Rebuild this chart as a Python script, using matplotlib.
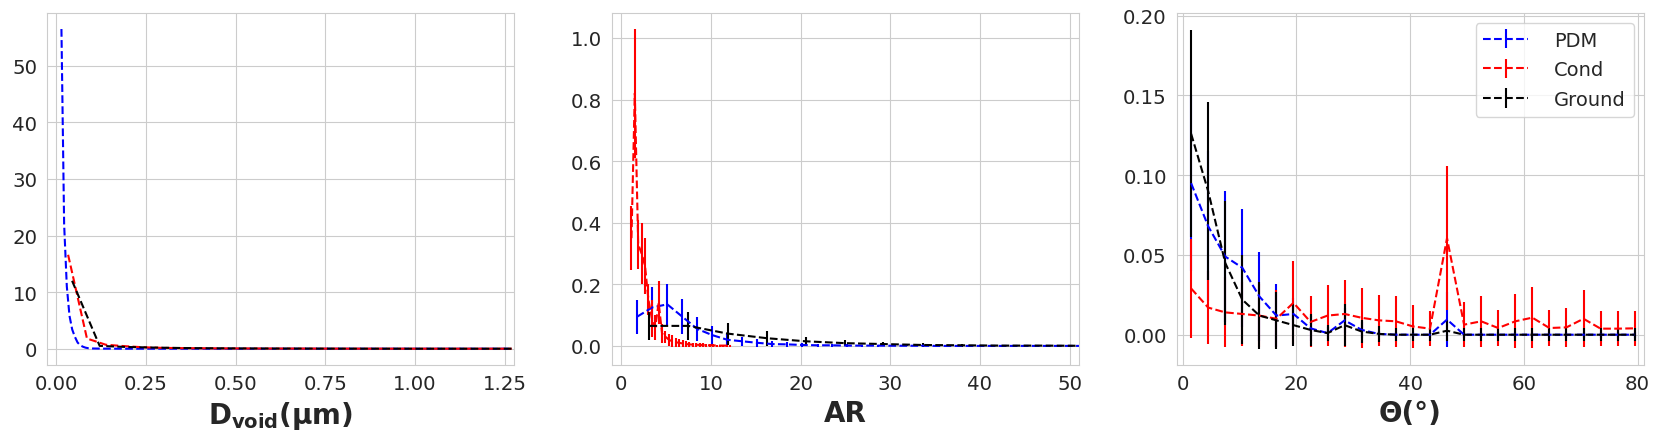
import numpy as np
import matplotlib
matplotlib.use("Agg")
import matplotlib.pyplot as plt
import seaborn as sns

sns.set_style("whitegrid")
plt.rcParams["font.family"] = ["DejaVu Sans"]

# ---- D_void panel (um) ----
dv_pdm_x = [0.0138, 0.0213, 0.0288, 0.0363, 0.0438, 0.0513, 0.0588, 0.0663,
            0.0738, 0.0813, 0.0888, 0.1, 0.13, 0.2, 0.4, 0.7, 1.0, 1.27]
dv_pdm_y = [56.5, 22.0, 11.0, 5.8, 3.4, 2.1, 1.1, 0.6,
            0.35, 0.18, 0.09, 0.04, 0.01, 0.0, 0.0, 0.0, 0.0, 0.0]
dv_cond_x = [0.0324, 0.085, 0.1376, 0.19, 0.243, 0.295, 0.35, 0.45, 0.6, 0.8, 1.0, 1.27]
dv_cond_y = [16.6, 1.8, 0.7, 0.45, 0.25, 0.15, 0.1, 0.06, 0.03, 0.01, 0.0, 0.0]
dv_gnd_x = [0.0435, 0.1204, 0.197, 0.274, 0.351, 0.428, 0.505, 0.6, 0.8, 1.0, 1.27]
dv_gnd_y = [12.0, 0.5, 0.3, 0.2, 0.12, 0.08, 0.05, 0.03, 0.01, 0.0, 0.0]

# ---- AR panel ----
ar_pdm_x = [1.79, 3.47, 5.14, 6.81, 8.49, 10.16, 11.83, 13.5, 15.2, 16.85,
            18.5, 20.2, 21.9, 23.5, 25.2, 26.9, 28.6, 30.2, 31.9, 33.6,
            35.2, 36.9, 38.6, 40.2, 41.9, 43.6, 45.3, 46.9, 48.6, 50.3, 52.0]
ar_pdm_y = [0.095, 0.125, 0.135, 0.095, 0.055, 0.035, 0.02, 0.015, 0.01, 0.006,
            0.005, 0.003, 0.002, 0.002, 0.001, 0.001, 0.001, 0.0005, 0.0005, 0.0005,
            0.0, 0.0, 0.0, 0.0, 0.0, 0.0, 0.0, 0.0, 0.0, 0.0, 0.0]
ar_pdm_e = [0.055, 0.067, 0.066, 0.057, 0.038, 0.031, 0.02, 0.015, 0.012, 0.01,
            0.008, 0.006, 0.005, 0.004, 0.004, 0.003, 0.003, 0.002, 0.002, 0.002,
            0.001, 0.001, 0.001, 0.001, 0.001, 0.001, 0.001, 0.001, 0.001, 0.001, 0.001]
ar_cond_x = [1.15, 1.52, 1.90, 2.28, 2.66, 3.04, 3.42, 3.80, 4.18, 4.56,
             4.94, 5.32, 5.70, 6.08, 6.46, 6.84, 7.22, 7.60, 7.98, 8.36,
             8.74, 9.12, 9.50, 9.88, 10.26, 10.64, 11.02, 11.40, 11.78, 12.16]
ar_cond_y = [0.35, 0.82, 0.33, 0.30, 0.26, 0.15, 0.09, 0.06, 0.14, 0.04,
             0.03, 0.02, 0.015, 0.012, 0.010, 0.008, 0.006, 0.005, 0.004, 0.004,
             0.003, 0.003, 0.002, 0.002, 0.002, 0.001, 0.001, 0.001, 0.001, 0.001]
ar_cond_e = [0.105, 0.21, 0.08, 0.10, 0.09, 0.05, 0.06, 0.04, 0.07, 0.03,
             0.02, 0.02, 0.02, 0.015, 0.012, 0.01, 0.01, 0.008, 0.006, 0.006,
             0.005, 0.005, 0.004, 0.004, 0.004, 0.003, 0.003, 0.003, 0.003, 0.003]
ar_gnd_x = [3.15, 7.49, 11.87, 16.25, 20.56, 24.94, 29.24, 33.63, 37.97, 42.35, 46.65, 51.0]
ar_gnd_y = [0.065, 0.065, 0.04, 0.025, 0.015, 0.009, 0.006, 0.003, 0.002, 0.001, 0.001, 0.0005]
ar_gnd_e = [0.045, 0.046, 0.036, 0.025, 0.015, 0.01, 0.007, 0.005, 0.004, 0.003, 0.002, 0.002]

# ---- Theta panel (deg) ----
th_x = [1.5, 4.5, 7.5, 10.5, 13.5, 16.5, 19.5, 22.5, 25.5, 28.5, 31.5, 34.5, 37.5, 40.5,
        43.5, 46.5, 49.5, 52.5, 55.5, 58.5, 61.5, 64.5, 67.5, 70.5, 73.5, 76.5, 79.5]
th_pdm_y = [0.095, 0.068, 0.049, 0.042, 0.024, 0.012, 0.013, 0.004, 0.001, 0.009, 0.003, 0.0005, 0.0,
            0.0, 0.0, 0.0095, 0.0, 0.0, 0.0, 0.0, 0.0, 0.0, 0.0, 0.0, 0.0, 0.0, 0.0]
th_pdm_e = [0.055, 0.047, 0.041, 0.037, 0.028, 0.02, 0.01, 0.008, 0.004, 0.008, 0.005, 0.002, 0.002,
            0.002, 0.002, 0.017, 0.002, 0.002, 0.002, 0.002, 0.002, 0.002, 0.002, 0.002, 0.002, 0.002, 0.002]
th_cond_y = [0.029, 0.017, 0.014, 0.013, 0.012, 0.010, 0.020, 0.008, 0.012, 0.013, 0.0106, 0.009, 0.0084,
             0.0052, 0.0038, 0.0605, 0.0063, 0.0084, 0.0042, 0.0084, 0.0107, 0.0042, 0.0046, 0.010,
             0.0038, 0.0038, 0.0040]
th_cond_e = [0.031, 0.023, 0.022, 0.02, 0.02, 0.018, 0.026, 0.016, 0.019, 0.021, 0.019, 0.016, 0.016,
             0.0135, 0.011, 0.0452, 0.014, 0.016, 0.011, 0.017, 0.019, 0.011, 0.012, 0.018,
             0.011, 0.011, 0.011]
th_gnd_y = [0.126, 0.090, 0.045, 0.022, 0.012, 0.009, 0.006, 0.003, 0.001, 0.006, 0.002, 0.0005, 0.0,
            0.0, 0.0, 0.0025, 0.0, 0.0, 0.0, 0.0, 0.0, 0.0, 0.0, 0.0, 0.0, 0.0, 0.0]
th_gnd_e = [0.065, 0.056, 0.039, 0.028, 0.021, 0.018, 0.013, 0.01, 0.005, 0.013, 0.007, 0.005, 0.004,
            0.004, 0.004, 0.0065, 0.004, 0.004, 0.004, 0.004, 0.004, 0.004, 0.004, 0.004, 0.004, 0.004, 0.004]

fig, axes = plt.subplots(1, 3, figsize=(16.61, 4.39), dpi=100)
fig.subplots_adjust(left=0.0284, right=0.9895, top=0.968, bottom=0.167, wspace=0.209)

lw = 1.5
label_kw = dict(fontsize=20, fontweight="bold")

ax = axes[0]
ax.plot(dv_pdm_x, dv_pdm_y, "--", color="blue", lw=lw, label="PDM")
ax.plot(dv_cond_x, dv_cond_y, "--", color="red", lw=lw, label="Cond")
ax.plot(dv_gnd_x, dv_gnd_y, "--", color="black", lw=lw, label="Ground")
ax.set_xlim(-0.026, 1.277)
ax.set_xticks([0.0, 0.25, 0.5, 0.75, 1.0, 1.25])
ax.set_xlabel(r"D$_{\mathbf{void}}$(μm)", **label_kw)

ax = axes[1]
ax.errorbar(ar_pdm_x, ar_pdm_y, yerr=ar_pdm_e, fmt="--", color="blue", lw=lw, label="PDM")
ax.errorbar(ar_cond_x, ar_cond_y, yerr=ar_cond_e, fmt="--", color="red", lw=lw, label="Cond")
ax.errorbar(ar_gnd_x, ar_gnd_y, yerr=ar_gnd_e, fmt="--", color="black", lw=lw, label="Ground")
ax.set_xlim(-1.04, 51.04)
ax.set_ylim(-0.061, 1.081)
ax.set_xlabel("AR", **label_kw)

ax = axes[2]
ax.errorbar(th_x, th_pdm_y, yerr=th_pdm_e, fmt="--", color="blue", lw=lw, label="PDM")
ax.errorbar(th_x, th_cond_y, yerr=th_cond_e, fmt="--", color="red", lw=lw, label="Cond")
ax.errorbar(th_x, th_gnd_y, yerr=th_gnd_e, fmt="--", color="black", lw=lw, label="Ground")
ax.set_xlim(-1.07, 81.06)
ax.set_ylim(-0.0188, 0.2017)
ax.set_yticks([0.0, 0.05, 0.10, 0.15, 0.20])
ax.set_xlabel("Θ(°)", **label_kw)
ax.legend(loc="upper right", fontsize=14, handlelength=2.3, handletextpad=1.35,
          labelspacing=0.55)

for ax in axes:
    ax.tick_params(labelsize=14.2)

fig.savefig("out.png", dpi=100)
